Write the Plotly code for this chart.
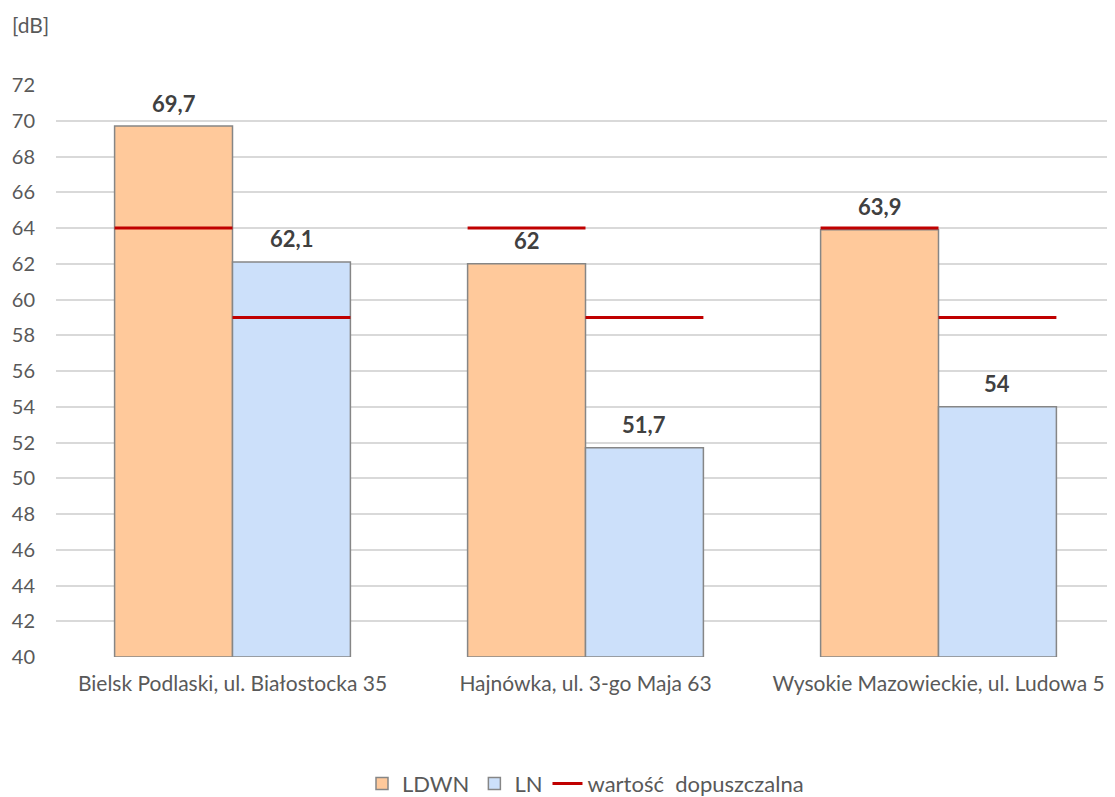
import plotly.graph_objects as go

categories = ["Bielsk Podlaski, ul. Białostocka 35", "Hajnówka, ul. 3-go Maja 63", "Wysokie Mazowieckie, ul. Ludowa 5"]
ldwn = [69.7, 62.0, 63.9]
ln = [62.1, 51.7, 54.0]
limit_ldwn = [64, 64, 64]
limit_ln = [59, 59, 59]
y_ticks = list(range(40, 73, 2))

W = 0.334  # bar width in category units
xs = list(range(len(categories)))
FONT = "Lato, Open Sans, sans-serif"

def fmt(v):
    s = ("%.1f" % v)
    if s.endswith(".0"):
        s = s[:-2]
    return s.replace(".", ",")

fig = go.Figure()
fig.add_trace(go.Bar(
    x=[i - W / 2 for i in xs], y=[v - 40 for v in ldwn], base=40, width=W, name="LDWN",
    marker=dict(color="#FFC99B", line=dict(color="#868686", width=1.5)),
    hoverinfo="skip"))
fig.add_trace(go.Bar(
    x=[i + W / 2 for i in xs], y=[v - 40 for v in ln], base=40, width=W, name="LN",
    marker=dict(color="#CCE0FA", line=dict(color="#868686", width=1.5)),
    hoverinfo="skip"))

lx, ly = [], []
for i in xs:
    lx += [i - W, i, None, i, i + W, None]
    ly += [limit_ldwn[i], limit_ldwn[i], None, limit_ln[i], limit_ln[i], None]
fig.add_trace(go.Scatter(x=lx, y=ly, mode="lines", name="wartość  dopuszczalna",
                         line=dict(color="#C00000", width=3), hoverinfo="skip"))

annotations = []
for i in xs:
    for v, off in ((ldwn[i], -W / 2), (ln[i], W / 2)):
        annotations.append(dict(x=i + off, y=v, text="<b>%s</b>" % fmt(v), showarrow=False,
                                yshift=23, font=dict(family=FONT, size=22, color="#404040")))
annotations.append(dict(xref="paper", yref="paper", x=-0.0434, y=1.0, yshift=61,
                        text="[dB]", showarrow=False, xanchor="left", yanchor="middle",
                        font=dict(family=FONT, size=21, color="#595959")))

fig.update_layout(
    width=1115, height=789,
    margin=dict(l=48, r=8, t=77, b=140),
    plot_bgcolor="white", paper_bgcolor="white",
    font=dict(family=FONT, color="#595959", size=20),
    barmode="overlay",
    showlegend=True,
    legend=dict(orientation="h", x=0.5, xanchor="center",
                yref="container", y=0.017, yanchor="middle",
                font=dict(family=FONT, size=22, color="#595959"), traceorder="normal",
                itemwidth=30, tracegroupgap=0),
    annotations=annotations,
    xaxis=dict(range=[-0.5, 2.5], tickvals=xs, ticktext=categories, showgrid=False,
               zeroline=False, showline=False, ticks="", ticklabelstandoff=12,
               automargin=False, tickfont=dict(family=FONT, size=21, color="#595959")),
    yaxis=dict(range=[40, 72], tickvals=y_ticks, showgrid=True, gridcolor="#D9D9D9",
               gridwidth=1.5, zeroline=False, showline=False, ticks="",
               ticklabelstandoff=20, automargin=False,
               tickfont=dict(family=FONT, size=20, color="#595959")),
)
fig.write_html("out.html")
